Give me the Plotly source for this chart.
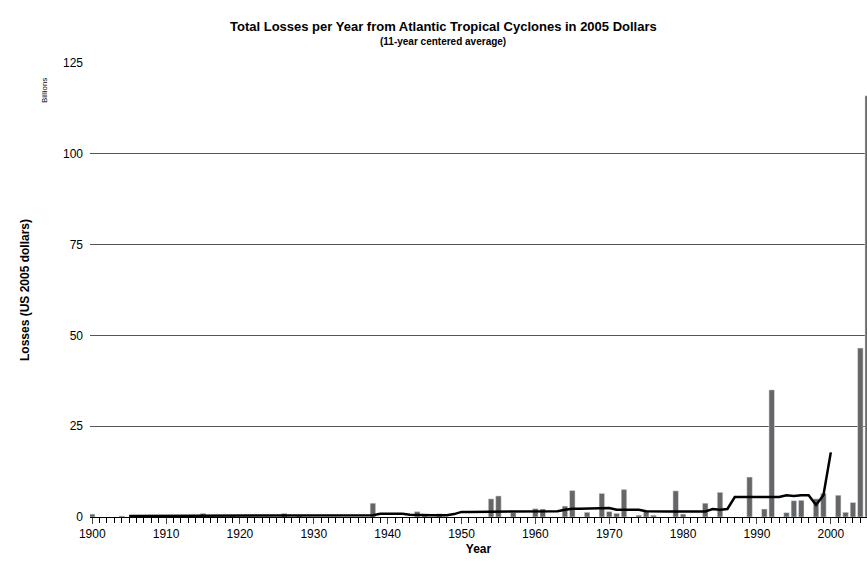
import plotly.graph_objects as go

bar_years = [1900, 1904, 1915, 1916, 1919, 1926, 1928, 1938, 1944, 1945, 1947,
             1954, 1955, 1957, 1960, 1961, 1964, 1965, 1967, 1969, 1970, 1971,
             1972, 1974, 1975, 1976, 1979, 1980, 1983, 1985, 1989, 1991, 1992,
             1994, 1995, 1996, 1998, 1999, 2001, 2002, 2003, 2004, 2005]
bar_losses = [0.8, 0.3, 1.0, 0.3, 0.4, 1.0, 0.4, 3.8, 1.5, 0.5, 0.9,
              5.0, 5.8, 1.2, 2.3, 2.2, 3.0, 7.3, 1.3, 6.5, 1.5, 1.0,
              7.6, 0.5, 1.6, 0.5, 7.2, 0.8, 3.8, 6.8, 11.0, 2.2, 35.0,
              1.2, 4.5, 4.6, 5.0, 6.5, 6.0, 1.3, 4.0, 46.5, 116.0]

avg_years = list(range(1905, 2001))
avg_losses = ([0.3] * 28 + [0.5] * 6 + [0.9] * 4 + [0.6] + [0.5] * 5 + [0.8]
              + [1.4] * 7 + [1.6] * 7 + [2.0] + [2.3] * 3 + [2.5] * 3 + [2.0] * 4
              + [1.6] + [1.5] * 8 + [2.2, 2.0, 2.2] + [5.5] * 7 + [6.0, 5.8, 6.0, 6.0, 3.3, 6.0, 17.8])

W, H = 867, 565
L, T, B = 90, 63, 48
ph, pw = H - T - B, W - L

fig = go.Figure()
fig.add_bar(x=bar_years, y=bar_losses, marker_color="#666666", width=0.75)
fig.add_scatter(x=avg_years, y=avg_losses, mode="lines",
                line=dict(color="black", width=2.5))


def px_ann(text, x, y, **kw):
    return dict(text=text, x=(x - L) / pw, y=1 + (T - y) / ph, xref="paper", yref="paper",
                showarrow=False, **kw)


fig.update_layout(
    width=W, height=H, showlegend=False,
    plot_bgcolor="white", paper_bgcolor="white",
    margin=dict(l=L, r=0, t=T, b=B, autoexpand=False),
    font=dict(family="Liberation Sans, Arial", size=12, color="black"),
    annotations=[
        px_ann("<b>Total Losses per Year from Atlantic Tropical Cyclones in 2005 Dollars</b>",
               443, 17, font=dict(size=13)),
        px_ann("<b>(11-year centered average)</b>", 443, 34, font=dict(size=10)),
        px_ann("Billions", 38, 76, textangle=-90, font=dict(size=8)),
    ],
)
fig.update_xaxes(range=[1899.7, 2004.9], tickmode="linear", tick0=1900, dtick=10,
                 showgrid=False, showline=True, linecolor="black", automargin=False,
                 ticks="outside", ticklen=6, minor=dict(dtick=1, ticks="outside", ticklen=5, tickcolor="black"),
                 title=dict(text="<b>Year</b>", font=dict(size=12), standoff=4))
fig.update_yaxes(range=[0, 125], tickmode="linear", dtick=25, showgrid=True, automargin=False,
                 gridcolor="#555555", gridwidth=1.2, zeroline=False, ticklabelstandoff=6,
                 title=dict(text="<b>Losses (US 2005 dollars)</b>", font=dict(size=12), standoff=30))

# drop the default page margin so the figure fills the window exactly
fig.write_html("out.html", config={"displayModeBar": False},
               post_script="document.body.style.margin='0';document.body.style.overflow='hidden';")
